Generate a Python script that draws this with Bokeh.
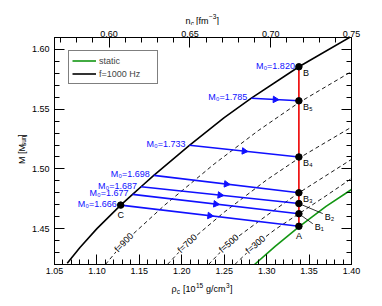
import numpy as np
from bokeh.plotting import figure
from bokeh.layouts import column, row
from bokeh.models import (Range1d, LinearAxis, FixedTicker, PrintfTickFormatter,
                          Legend, LegendItem)
from bokeh.core.properties import value
from bokeh.embed import file_html
from bokeh.resources import INLINE

# ---------------- data ----------------
# f = 1000 Hz sequence
rho_f1000 = [1.065, 1.08, 1.10, 1.128, 1.142, 1.152, 1.167, 1.209, 1.25, 1.282, 1.338, 1.40]
M_f1000 = [1.421, 1.4343, 1.450, 1.4697, 1.4787, 1.4851, 1.4946, 1.5198, 1.5430, 1.5592, 1.5855, 1.611]

# static sequence
rho_static = [1.2857, 1.31, 1.338, 1.37, 1.40]
M_static = [1.420, 1.4352, 1.4514, 1.4687, 1.4828]

# constant-frequency lines (dashed)
f_names = ["f=900", "f=700", "f=500", "f=300"]
rho_f900 = [1.110, 1.1317, 1.18, 1.238, 1.29, 1.338, 1.40]
M_f900 = [1.420, 1.4384, 1.4698, 1.5040, 1.5320, 1.5555, 1.5815]
rho_f700 = [1.183, 1.2064, 1.25, 1.30, 1.338, 1.40]
M_f700 = [1.420, 1.4376, 1.4638, 1.4908, 1.5090, 1.5350]
rho_f500 = [1.2315, 1.2554, 1.30, 1.338, 1.40]
M_f500 = [1.420, 1.4376, 1.4610, 1.4800, 1.5080]
rho_f300 = [1.2625, 1.2869, 1.31, 1.338, 1.37, 1.40]
M_f300 = [1.420, 1.4367, 1.4493, 1.4625, 1.4775, 1.4920]
rho_flabel = [1.1317, 1.2064, 1.2554, 1.2869]

# spin-down tracks at constant baryon mass M0
M0_values = [1.666, 1.677, 1.687, 1.698, 1.733, 1.785]
rho_start = [1.128, 1.142, 1.152, 1.167, 1.209, 1.282]
M_start = [1.4697, 1.4787, 1.4851, 1.4946, 1.5198, 1.5592]
M_end = [1.452, 1.4625, 1.471, 1.480, 1.510, 1.557]
end_names = ["A", "B\u2081", "B\u2082", "B\u2083", "B\u2084", "B\u2085"]
rho_crit = 1.338
M_B = 1.5855
M0_B = 1.820

# axis ticks
x_ticks = [1.05, 1.10, 1.15, 1.20, 1.25, 1.30, 1.35, 1.40]
x_minor = [round(1.05 + 0.01 * i, 2) for i in range(36)]
y_ticks = [1.45, 1.50, 1.55, 1.60]
y_minor = [round(1.42 + 0.01 * i, 2) for i in range(20)]
nc_ticks = [0.60, 0.65, 0.70, 0.75]
nc_minor = [round(0.57 + 0.01 * i, 2) for i in range(19)]

# ---------------- layout ----------------
TOP_H, BOT_H, LEFT_W = 25, 26, 28
W, H = 352, 253
BL, BR, BT, BB = 24, 29, 12, 14
X0, X1, Y0, Y1 = 1.05, 1.40, 1.42, 1.61
XPX = (W - BL - BR) / (X1 - X0)
YPX = (H - BT - BB) / (Y1 - Y0)
FONT = "Liberation Sans"
FS = "9px"
SS = "6.5px"
BLUE = "#1010ff"
GREEN = "#129612"
RED = "#ee0000"

p = figure(width=W, height=H, x_range=Range1d(X0, X1), y_range=Range1d(Y0, Y1),
           output_backend="svg", toolbar_location=None,
           min_border_left=BL, min_border_right=BR, min_border_top=BT, min_border_bottom=BB)
p.xgrid.visible = False
p.ygrid.visible = False
p.outline_line_color = "black"
p.background_fill_color = "white"
p.border_fill_color = "white"
p.extra_x_ranges = {"nc": Range1d(0.5662, 0.75)}


def style_axis(ax, labels=True):
    ax.major_tick_in = 10
    ax.major_tick_out = 0
    ax.minor_tick_in = 5
    ax.minor_tick_out = 0
    ax.axis_line_color = "black"
    ax.major_tick_line_color = "black"
    ax.minor_tick_line_color = "black"
    ax.major_label_text_font = FONT
    ax.major_label_text_font_size = FS
    ax.major_label_text_color = "black"
    ax.formatter = PrintfTickFormatter(format="%.2f")
    if not labels:
        ax.major_label_text_font_size = "0px"
        ax.major_label_text_color = None


bottom = p.xaxis[0]
bottom.ticker = FixedTicker(ticks=x_ticks, minor_ticks=x_minor)
style_axis(bottom)
bottom.major_label_standoff = 3
left = p.yaxis[0]
left.ticker = FixedTicker(ticks=y_ticks, minor_ticks=y_minor)
style_axis(left)
left.major_label_standoff = 5

right = LinearAxis(ticker=FixedTicker(ticks=y_ticks, minor_ticks=y_minor))
style_axis(right, labels=False)
p.add_layout(right, "right")
top = LinearAxis(x_range_name="nc", ticker=FixedTicker(ticks=nc_ticks, minor_ticks=nc_minor))
style_axis(top)
top.major_label_standoff = 1
p.add_layout(top, "above")

# ---------------- curves ----------------
dashed = [(rho_f900, M_f900), (rho_f700, M_f700), (rho_f500, M_f500), (rho_f300, M_f300)]
lx, ly, lang = [], [], []
for (rr, mm), rl in zip(dashed, rho_flabel):
    p.line(rr, mm, line_color="black", line_width=0.9, line_dash="4 3")
    yl = float(np.interp(rl, rr, mm))
    slope = (np.interp(rl + 0.006, rr, mm) - np.interp(rl - 0.006, rr, mm)) / 0.012
    lx.append(rl)
    ly.append(yl)
    lang.append(float(np.arctan(slope * YPX / XPX)))
p.text(lx, ly, text=f_names, angle=lang, text_align="center", text_baseline="middle",
       text_font=value(FONT), text_font_size=FS, text_color="black",
       background_fill_color="white", padding=1)

g_static = p.line(rho_static, M_static, line_color=GREEN, line_width=1.6)
g_f1000 = p.line(rho_f1000, M_f1000, line_color="black", line_width=1.6)

# red line at critical density
p.line([rho_crit, rho_crit], [M_end[0], M_B], line_color=RED, line_width=1.6)

# spin-down tracks
for rs, ms, me in zip(rho_start, M_start, M_end):
    p.line([rs, rho_crit], [ms, me], line_color=BLUE, line_width=1.6)
mx = [(rs + rho_crit) / 2 for rs in rho_start]
my = [(ms + me) / 2 for ms, me in zip(M_start, M_end)]
mang = [float(np.arctan((me - ms) * YPX / ((rho_crit - rs) * XPX))) - np.pi / 2
        for rs, ms, me in zip(rho_start, M_start, M_end)]
p.scatter(mx, my, marker="triangle", angle=mang, size=6.5, fill_color=BLUE, line_color=BLUE)

# M0 labels
p.text(rho_start + [rho_crit], M_start + [M_B],
       text=["M\u2080=%.3f" % v for v in M0_values + [M0_B]],
       text_align="right", text_baseline="alphabetic", x_offset=-4, y_offset=-1,
       text_font=value(FONT), text_font_size=FS, text_color=BLUE)

# points
p.scatter([rho_start[0]] + [rho_crit] * 7, [M_start[0]] + M_end + [M_B],
          size=6.5, fill_color="black", line_color="black")

# point labels
p.text([rho_start[0], rho_crit], [M_start[0], M_end[0]], text=["C", "A"],
       text_align="center", text_baseline="top", y_offset=5,
       text_font=value(FONT), text_font_size=FS, text_color="black")
p.text([rho_crit] * 4, [M_end[3], M_end[4], M_end[5], M_B],
       text=[end_names[3], end_names[4], end_names[5], "B"],
       text_align="left", text_baseline="top", x_offset=4, y_offset=1,
       text_font=value(FONT), text_font_size=FS, text_color="black")
# B1, B2 with leader lines
lead_dx = [14, 24]
lead_dy = [10, 10]
p.segment([rho_crit] * 2, [M_end[1], M_end[2]],
          [rho_crit + d / XPX for d in lead_dx],
          [m - d / YPX for m, d in zip([M_end[1], M_end[2]], lead_dy)],
          line_color="black", line_width=0.8)
p.text([rho_crit + (d + 2) / XPX for d in lead_dx],
       [m - d / YPX for m, d in zip([M_end[1], M_end[2]], lead_dy)],
       text=[end_names[1], end_names[2]], text_align="left", text_baseline="middle",
       y_offset=3, text_font=value(FONT), text_font_size=FS, text_color="black")

# legend
legend = Legend(items=[LegendItem(label="static", renderers=[g_static]),
                       LegendItem(label="f=1000 Hz", renderers=[g_f1000])],
                location=(14, H - BT - BB - 15 - 32), margin=0, padding=3, spacing=0,
                glyph_width=24, glyph_height=13, label_height=13, label_standoff=3,
                label_width=55,
                label_text_font=FONT, label_text_font_size=FS,
                border_line_color="black", border_line_width=1,
                background_fill_color="white", background_fill_alpha=1)
p.add_layout(legend)


# ---------------- axis titles (strips in page pixel coordinates) ----------------
def strip(w, h, x0, y0):
    f = figure(width=w, height=h, x_range=Range1d(x0, x0 + w), y_range=Range1d(-(y0 + h), -y0),
               output_backend="svg", toolbar_location=None, min_border=0,
               x_axis_type=None, y_axis_type=None)
    f.outline_line_color = None
    f.background_fill_color = "white"
    f.border_fill_color = "white"
    return f


def txt(f, xs, ys, ts, sizes, angle=0.0):
    for x, y, t, s in zip(xs, ys, ts, sizes):
        f.text([x], [-y], text=[t], angle=angle, text_align="left", text_baseline="alphabetic",
               text_font=value(FONT), text_font_size=s, text_color="black")


TOTAL_W = LEFT_W + W
# top: n_c [fm^-3]
ftop = strip(TOTAL_W, TOP_H, 0, 0)
txt(ftop, [185, 190.3, 195.5, 208.5, 216], [20.5, 22.5, 20.5, 16, 20.5],
    ["n", "c", "[fm", "\u22123", "]"], [FS, SS, FS, SS, FS])

# left: M [M_sun]
fleft = strip(LEFT_W, H, 0, TOP_H)
for x, y, t, s in zip([21.5, 23.2, 21.5], [166, 146, 135.5], ["M [M", "sun", "]"], [FS, SS, FS]):
    fleft.text([x], [-y], text=[t], angle=np.pi / 2, text_align="left",
               text_baseline="alphabetic", text_font=value(FONT), text_font_size=s,
               text_color="black")

# bottom: rho_c [10^15 g/cm^3]
fbot = strip(TOTAL_W, BOT_H, 0, TOP_H + H)
txt(fbot, [171, 176.3, 182.5, 195.5, 205.5, 225.5, 229.5],
    [288.5, 291, 288.5, 284.5, 288.5, 284.5, 288.5],
    ["\u03c1", "c", "[10", "15", "g/cm", "3", "]"], [FS, SS, FS, SS, FS, SS, FS])

layout = column(ftop, row(fleft, p), fbot)
open("out.html", "w").write(file_html(layout, INLINE))
